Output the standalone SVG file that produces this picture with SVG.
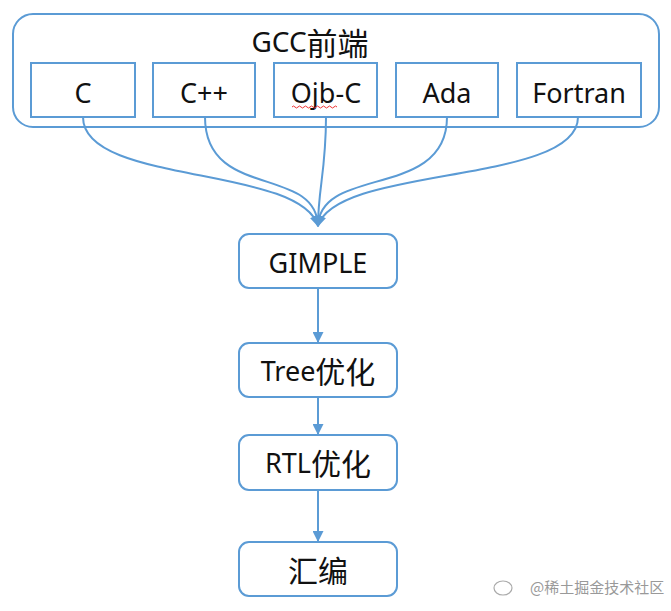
<svg xmlns="http://www.w3.org/2000/svg" width="671" height="611" viewBox="0 0 671 611">
<style>
.box{fill:#fff;stroke:#5B9BD5;stroke-width:2}
.t{font-family:"Noto Sans","Open Sans","Noto Sans CJK SC",sans-serif;font-size:27px;fill:#111;text-anchor:middle;dominant-baseline:central}
.cj{font-family:"Noto Sans CJK SC",sans-serif;font-size:30px}
.c{fill:none;stroke:#5B9BD5;stroke-width:2}
.wm{font-family:"Noto Sans CJK SC",sans-serif;font-size:15px;fill:#999}
</style>
<defs>
<marker id="ah" markerWidth="11" markerHeight="11" refX="10" refY="5.5" orient="auto" markerUnits="userSpaceOnUse">
<path d="M0,0 L11,5.5 L0,11 z" fill="#5B9BD5"/>
</marker>
</defs>
<rect width="671" height="611" fill="#fff"/>
<g id="frontend">
<rect class="box" x="13" y="14" width="646" height="113" rx="20"/>
<text class="t" x="310" y="41" style="font-size:28px">GCC<tspan class="cj" style="font-size:31px">前端</tspan></text>
</g>
<g id="c"><rect class="box" x="31" y="63" width="104" height="54"/><text class="t" x="83" y="92">C</text></g>
<g id="cpp"><rect class="box" x="153" y="63" width="102" height="54"/><text class="t" x="204" y="92">C++</text></g>
<g id="objc"><rect class="box" x="274" y="63" width="103" height="54"/><text class="t" x="326" y="92">Ojb-C</text>
<path d="M292,107 q1.5,-2 3,0 t3,0 t3,0 t3,0 t3,0 t3,0 t3,0 t3,0 t3,0 t3,0 t3,0 t3,0 t3,0 t3,0 t3,0" fill="none" stroke="#e33" stroke-width="1"/></g>
<g id="ada"><rect class="box" x="396" y="63" width="102" height="54"/><text class="t" x="447" y="92">Ada</text></g>
<g id="fortran"><rect class="box" x="517" y="63" width="124" height="54"/><text class="t" x="579" y="92">Fortran</text></g>
<g id="gimple"><rect class="box" x="239" y="234" width="158" height="54" rx="10"/><text class="t" x="318" y="262">GIMPLE</text></g>
<g id="tree"><rect class="box" x="239" y="343" width="158" height="54" rx="10"/><text class="t" x="318" y="370">Tree<tspan class="cj">优化</tspan></text></g>
<g id="rtl"><rect class="box" x="239" y="435" width="158" height="55" rx="10"/><text class="t" x="318" y="462">RTL<tspan class="cj">优化</tspan></text></g>
<g id="asm"><rect class="box" x="239" y="542" width="158" height="54" rx="10"/><text class="t cj" x="318" y="569">汇编</text></g>
<g id="connectors">
<path class="c" d="M83,117 C83,185 300,165 318,226" marker-end="url(#ah)"/>
<path class="c" d="M205,117 C205,200 316,165 318,226" marker-end="url(#ah)"/>
<path class="c" d="M326,117 C326,170 318,190 318,226" marker-end="url(#ah)"/>
<path class="c" d="M447,117 C447,200 320,165 318,226" marker-end="url(#ah)"/>
<path class="c" d="M578,117 C578,185 336,165 318,226" marker-end="url(#ah)"/>
<path class="c" d="M318,288 L318,342" marker-end="url(#ah)"/>
<path class="c" d="M318,397 L318,434" marker-end="url(#ah)"/>
<path class="c" d="M318,490 L318,541" marker-end="url(#ah)"/>
</g>
<g id="watermark">
<ellipse cx="503" cy="588" rx="9" ry="7" fill="none" stroke="#aaa" stroke-width="1.2"/>
<text class="wm" x="530" y="593">@稀土掘金技术社区</text>
</g>
</svg>
